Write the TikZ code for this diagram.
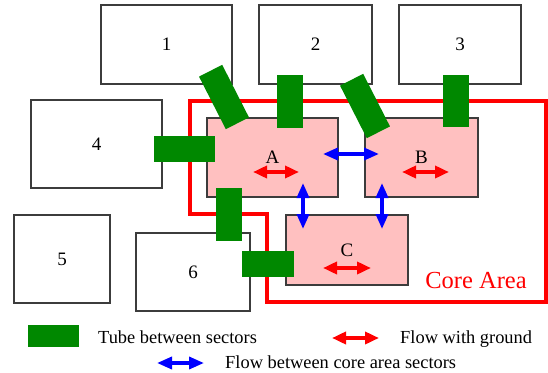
\documentclass[tikz,border=0pt]{standalone}
\usepackage{fontspec}
\setmainfont{Liberation Serif}
\usepackage{tikz}
\usetikzlibrary{arrows.meta}

\definecolor{tubegreen}{RGB}{0,136,0}
\definecolor{corepink}{RGB}{255,192,192}
\definecolor{edgegray}{RGB}{60,60,60}

\begin{document}
\begin{tikzpicture}[x=1pt,y=-1pt,
  sector/.style={draw=edgegray,line width=1.2pt,fill=white,inner sep=0pt,font=\fontsize{19}{19}\selectfont},
  coresector/.style={sector,fill=corepink},
  tube/.style={fill=tubegreen,inner sep=0pt},
  flowground/.style={{Triangle[length=14pt,width=12pt]}-{Triangle[length=14pt,width=12pt]},red,line width=3.5pt},
  flowcore/.style={{Triangle[length=15pt,width=12pt]}-{Triangle[length=15pt,width=12pt]},blue,line width=3.5pt},
  keytext/.style={anchor=base west,inner sep=0pt,font=\fontsize{18.4}{18.4}\selectfont}]

\useasboundingbox (0,0) rectangle (548,372);

% Outer sectors
\node[sector,minimum width=131pt,minimum height=79pt] (s1) at (166.5,44.5) {1};
\node[sector,minimum width=113pt,minimum height=79pt] (s2) at (315.5,44.5) {2};
\node[sector,minimum width=122pt,minimum height=79pt] (s3) at (460,44.5) {3};
\node[sector,minimum width=131pt,minimum height=88pt] (s4) at (96.5,144) {4};
\node[sector,minimum width=96pt,minimum height=88pt] (s5) at (62,259) {5};
\node[sector,minimum width=114pt,minimum height=78pt] (s6) at (193,272) {6};

% Core area
\draw[red,line width=4pt] (190,101) -- (546,101) -- (546,302) -- (267,302)
  -- (267,214) -- (190,214) -- cycle;
\node[red,font=\fontsize{24.5}{24.5}\selectfont] (corelabel) at (476,281) {Core Area};

% Core sectors
\node[coresector,minimum width=131pt,minimum height=79pt] (A) at (272.5,157.5) {A};
\node[coresector,minimum width=113pt,minimum height=79pt] (B) at (421.5,157.5) {B};
\node[coresector,minimum width=122pt,minimum height=70pt] (C) at (347,250) {C};

% Tubes
\node[tube,minimum width=26pt,minimum height=59pt,rotate=27] (t1A) at (224,97) {};
\node[tube,minimum width=26pt,minimum height=53pt] (t2A) at (290,101.5) {};
\node[tube,minimum width=26pt,minimum height=59pt,rotate=27] (t2B) at (365,106) {};
\node[tube,minimum width=26pt,minimum height=52pt] (t3B) at (456,101) {};
\node[tube,minimum width=61pt,minimum height=26pt] (t4A) at (184.5,149) {};
\node[tube,minimum width=26pt,minimum height=53pt] (tA6) at (229,214.5) {};
\node[tube,minimum width=52pt,minimum height=26pt] (t6C) at (268,264) {};

% Flow with ground
\coordinate (gA1) at (253,172); \coordinate (gA2) at (299,172);
\coordinate (gB1) at (402,172); \coordinate (gB2) at (449,172);
\coordinate (gC1) at (323,268); \coordinate (gC2) at (371,268);
\draw[flowground] (gA1) -- (gA2);
\draw[flowground] (gB1) -- (gB2);
\draw[flowground] (gC1) -- (gC2);

% Flow between core sectors
\coordinate (fAB1) at (323,154); \coordinate (fAB2) at (379,154);
\coordinate (fAC1) at (303,183); \coordinate (fAC2) at (303,229);
\coordinate (fBC1) at (382,183); \coordinate (fBC2) at (382,229);
\draw[flowcore] (fAB1) -- (fAB2);
\draw[flowcore] (fAC1) -- (fAC2);
\draw[flowcore] (fBC1) -- (fBC2);

% Legend
\node[tube,minimum width=51pt,minimum height=22pt] (keytube) at (53,336) {};
\node[keytext] (keytubetext) at (98,343) {Tube between sectors};
\coordinate (kg1) at (332,338); \coordinate (kg2) at (379,338);
\draw[flowground] (kg1) -- (kg2);
\node[keytext] (keygroundtext) at (400,343) {Flow with ground};
\coordinate (kc1) at (157,363); \coordinate (kc2) at (204,363);
\draw[flowcore] (kc1) -- (kc2);
\node[keytext] (keycoretext) at (225,368) {Flow between core area sectors};

\end{tikzpicture}
\end{document}
